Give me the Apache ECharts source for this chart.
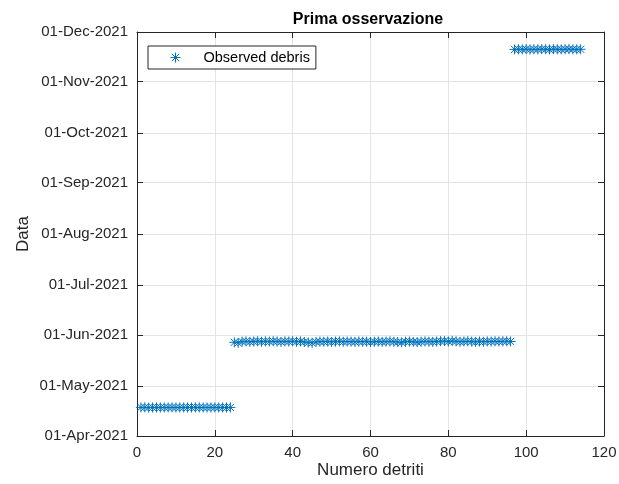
<!DOCTYPE html>
<html>
<head>
<meta charset="utf-8">
<script src="https://cdn.jsdelivr.net/npm/echarts@6/dist/echarts.min.js"></script>
<style>html,body{margin:0;padding:0;background:#fff}#c{width:619px;height:484px}</style>
</head>
<body>
<div id="c"></div>
<script>
const titleText = 'Prima osservazione';
const xName = 'Numero detriti';
const yName = 'Data';
const seriesName = 'Observed debris';
const xTicks = [0, 20, 40, 60, 80, 100, 120];
const yTickDates = ['2021-04-01','2021-05-01','2021-06-01','2021-07-01','2021-08-01','2021-09-01','2021-10-01','2021-11-01','2021-12-01'];
const monthNames = ['Jan','Feb','Mar','Apr','May','Jun','Jul','Aug','Sep','Oct','Nov','Dec'];

// debris index 1..114 and observation dates
const group1Dates = [
 '2021-04-18 06:00','2021-04-18 08:00','2021-04-18 04:00','2021-04-18 06:00','2021-04-18 07:00','2021-04-18 05:00',
 '2021-04-18 06:00','2021-04-18 06:00','2021-04-18 07:00','2021-04-18 05:00','2021-04-18 06:00','2021-04-18 06:00',
 '2021-04-18 06:00','2021-04-18 05:00','2021-04-18 07:00','2021-04-18 06:00','2021-04-18 06:00','2021-04-18 05:00',
 '2021-04-18 06:00','2021-04-18 07:00','2021-04-18 06:00','2021-04-18 06:00','2021-04-18 05:00','2021-04-18 06:00'
];
const group2Dates = [
 '2021-05-27 14:00','2021-05-27 06:00','2021-05-28 00:00','2021-05-28 04:00','2021-05-27 20:00','2021-05-28 02:00',
 '2021-05-28 06:00','2021-05-27 22:00','2021-05-28 04:00','2021-05-28 00:00','2021-05-28 06:00','2021-05-28 02:00',
 '2021-05-27 20:00','2021-05-28 04:00','2021-05-28 00:00','2021-05-28 06:00','2021-05-27 22:00','2021-05-28 02:00',
 '2021-05-27 18:00','2021-05-27 12:00','2021-05-27 06:00','2021-05-27 20:00','2021-05-28 00:00','2021-05-27 22:00',
 '2021-05-28 02:00','2021-05-27 20:00','2021-05-28 00:00','2021-05-28 04:00','2021-05-27 22:00','2021-05-28 02:00',
 '2021-05-28 00:00','2021-05-27 20:00','2021-05-28 02:00','2021-05-27 22:00','2021-05-28 00:00','2021-05-27 18:00',
 '2021-05-27 22:00','2021-05-28 02:00','2021-05-27 20:00','2021-05-28 00:00','2021-05-28 04:00','2021-05-27 22:00',
 '2021-05-27 18:00','2021-05-27 14:00','2021-05-27 22:00','2021-05-28 02:00','2021-05-27 20:00','2021-05-27 16:00',
 '2021-05-27 22:00','2021-05-28 04:00','2021-05-28 00:00','2021-05-27 20:00','2021-05-28 02:00','2021-05-28 06:00',
 '2021-05-28 08:00','2021-05-28 02:00','2021-05-28 10:00','2021-05-28 04:00','2021-05-27 22:00','2021-05-28 02:00',
 '2021-05-28 06:00','2021-05-28 00:00','2021-05-27 20:00','2021-05-28 02:00','2021-05-27 22:00','2021-05-28 04:00',
 '2021-05-28 00:00','2021-05-28 06:00','2021-05-28 02:00','2021-05-28 04:00','2021-05-28 06:00','2021-05-28 02:00'
];
const group3Dates = [
 '2021-11-20 12:00','2021-11-20 14:00','2021-11-20 12:00','2021-11-20 16:00','2021-11-20 10:00','2021-11-20 14:00',
 '2021-11-20 12:00','2021-11-20 16:00','2021-11-20 14:00','2021-11-20 12:00','2021-11-20 16:00','2021-11-20 14:00',
 '2021-11-20 12:00','2021-11-20 14:00','2021-11-20 16:00','2021-11-20 14:00','2021-11-20 12:00','2021-11-20 14:00'
];

function toTs(s) {
  const [d, t] = s.split(' ');
  const [y, m, dd] = d.split('-').map(Number);
  const [hh, mm] = (t || '00:00').split(':').map(Number);
  return Date.UTC(y, m - 1, dd, hh, mm);
}
function fmt(ts) {
  const d = new Date(ts);
  return String(d.getUTCDate()).padStart(2, '0') + '-' + monthNames[d.getUTCMonth()] + '-' + d.getUTCFullYear();
}
const allDates = group1Dates.concat(group2Dates, group3Dates);
const data = allDates.map((s, i) => [i + 1, toTs(s)]);
const yTicks = yTickDates.map(toTs);

const blue = '#0072BD';
const axisColor = '#262626';
const font = '"Liberation Sans", Arial, sans-serif';
const star = 'path://M0,-1L0,1M-1,0L1,0M-0.72,-0.72L0.72,0.72M-0.72,0.72L0.72,-0.72';

const tickIn = { show: true, inside: true, length: 6, lineStyle: { color: axisColor, width: 1 } };
const tickNeg = { show: true, inside: false, length: -6, lineStyle: { color: axisColor, width: 1 } };

const chart = echarts.init(document.getElementById('c'), null, { renderer: 'canvas' });
chart.setOption({
  animation: false,
  backgroundColor: '#fff',
  title: {
    text: titleText, left: 363, top: 7, textAlign: 'center',
    textStyle: { fontFamily: font, fontSize: 16, fontWeight: 'bold', color: '#000' }
  },
  legend: {
    left: 148, top: 46, orient: 'vertical',
    padding: [4, 6, 4, 20],
    borderColor: '#262626', borderWidth: 1, backgroundColor: '#fff',
    itemWidth: 10, itemHeight: 10, itemGap: 4,
    textStyle: { fontFamily: font, fontSize: 14.5, color: '#000', padding: [0, 0, 0, 18] },
    data: [{ name: seriesName, icon: star, itemStyle: { color: 'none', borderColor: blue, borderWidth: 1 } }]
  },
  grid: { left: 137, top: 32, right: 15, bottom: 48, containLabel: false, outerBoundsMode: 'none' },
  xAxis: [{
    type: 'value', min: xTicks[0], max: xTicks[xTicks.length - 1], interval: xTicks[1] - xTicks[0],
    name: xName, nameLocation: 'middle', nameGap: 26, nameMoveOverlap: false,
    nameTextStyle: { fontFamily: font, fontSize: 17, color: axisColor, verticalAlign: 'top' },
    axisLine: { show: true, onZero: false, lineStyle: { color: axisColor, width: 1 } },
    axisTick: tickIn,
    axisLabel: { fontFamily: font, fontSize: 15, color: axisColor, margin: 9 },
    splitLine: { show: true, lineStyle: { color: '#e4e4e4', width: 1 } }
  }, {
    type: 'value', min: xTicks[0], max: xTicks[xTicks.length - 1], interval: xTicks[1] - xTicks[0], position: 'top',
    axisLine: { show: true, onZero: false, lineStyle: { color: axisColor, width: 1 } },
    axisTick: tickNeg,
    axisLabel: { show: false }, splitLine: { show: false }
  }],
  yAxis: [{
    type: 'value', min: yTicks[0], max: yTicks[yTicks.length - 1],
    name: yName, nameLocation: 'middle', nameGap: 105, nameRotate: 90, nameMoveOverlap: false,
    nameTextStyle: { fontFamily: font, fontSize: 17, color: axisColor },
    axisLine: { show: true, onZero: false, lineStyle: { color: axisColor, width: 1 } },
    axisTick: Object.assign({}, tickIn, { customValues: yTicks }),
    axisLabel: { fontFamily: font, fontSize: 15, color: axisColor, margin: 9, customValues: yTicks, formatter: v => fmt(v) },
    splitLine: { show: true, lineStyle: { color: '#e4e4e4', width: 1 } }
  }, {
    type: 'value', min: yTicks[0], max: yTicks[yTicks.length - 1], position: 'right',
    axisLine: { show: true, onZero: false, lineStyle: { color: axisColor, width: 1 } },
    axisTick: Object.assign({}, tickNeg, { customValues: yTicks }),
    axisLabel: { show: false }, splitLine: { show: false }
  }],
  series: [{
    name: seriesName, type: 'scatter', xAxisIndex: 0, yAxisIndex: 0,
    symbol: star, symbolSize: 10,
    itemStyle: { color: 'none', borderColor: blue, borderWidth: 1, opacity: 1 },
    data: data
  }]
});
</script>
</body>
</html>
